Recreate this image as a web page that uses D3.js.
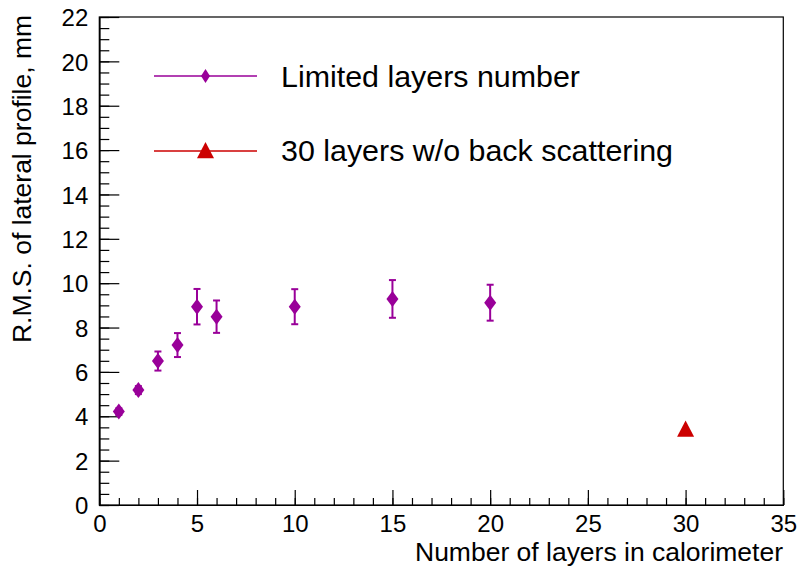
<!DOCTYPE html>
<html lang="en">
<meta charset="utf-8">
<style>
body { margin: 0; background: #fff; }
text { font-family: "Liberation Sans", Arial, sans-serif; fill: #000; }
.axis path, .axis line { stroke: #000; stroke-width: 1.2px; }
.axis text { font-size: 24px; }
</style>
<body>
<script src="https://d3js.org/d3.v7.min.js"></script>
<script>

// data
var layers   = [1, 2, 3, 4, 5, 6, 10, 15, 20];
var rms      = [4.21, 5.18, 6.49, 7.21, 8.94, 8.49, 8.94, 9.29, 9.12];
var rmsErr   = [0.15, 0.18, 0.43, 0.54, 0.8, 0.73, 0.79, 0.85, 0.81];
var noBackLayers = [30];
var noBackRms    = [3.41];

var xMajor = [0, 5, 10, 15, 20, 25, 30, 35];
var yMajor = [0, 2, 4, 6, 8, 10, 12, 14, 16, 18, 20, 22];

var purple = "#990099", red = "#cc0000";

var W = 799, H = 566;
var svg = d3.select("body").append("svg")
    .attr("width", W).attr("height", H);

var x = d3.scaleLinear().domain([0, 35]).range([99.3, 783.3]);
var y = d3.scaleLinear().domain([0, 22]).range([505, 17]);

// frame
svg.append("rect")
    .attr("x", x(0)).attr("y", y(22))
    .attr("width", x(35) - x(0)).attr("height", y(0) - y(22))
    .attr("fill", "none").attr("stroke", "#000").attr("stroke-width", 1.2);

// x axis, ticks pointing inward
svg.append("g").attr("class", "axis")
    .attr("transform", "translate(0," + y(0) + ")")
    .call(d3.axisBottom(x).tickValues(d3.range(0, 36, 1)).tickSize(-7).tickSizeOuter(0).tickFormat(""));
var gx = svg.append("g").attr("class", "axis")
    .attr("transform", "translate(0," + y(0) + ")")
    .call(d3.axisBottom(x).tickValues(xMajor).tickSize(-15).tickSizeOuter(0));
gx.selectAll("text").attr("y", 27).attr("dy", 0);

// y axis
svg.append("g").attr("class", "axis")
    .attr("transform", "translate(" + x(0) + ",0)")
    .call(d3.axisLeft(y).tickValues(d3.range(0, 22.01, 0.5)).tickSize(-10).tickSizeOuter(0).tickFormat(""));
var gy = svg.append("g").attr("class", "axis")
    .attr("transform", "translate(" + x(0) + ",0)")
    .call(d3.axisLeft(y).tickValues(yMajor).tickSize(-20).tickSizeOuter(0));
gy.selectAll("text").attr("x", -11).attr("dy", "0.36em");

// axis titles
svg.append("text")
    .attr("x", 783).attr("y", 561)
    .attr("text-anchor", "end")
    .attr("textLength", 368).attr("lengthAdjust", "spacingAndGlyphs")
    .style("font-size", "25px")
    .text("Number of layers in calorimeter");

svg.append("text")
    .attr("transform", "translate(31,15) rotate(-90)")
    .attr("text-anchor", "end")
    .attr("textLength", 328).attr("lengthAdjust", "spacingAndGlyphs")
    .style("font-size", "25px")
    .text("R.M.S. of lateral profile, mm");

// marker shapes
function diamond(cx, cy, hw, hh) {
  return "M" + cx + "," + (cy - hh) + "L" + (cx + hw) + "," + cy +
         "L" + cx + "," + (cy + hh) + "L" + (cx - hw) + "," + cy + "Z";
}
function triangle(cx, cy, s) {
  var h = s * 0.95;
  return "M" + cx + "," + (cy - h * 0.55) + "L" + (cx + s / 2) + "," + (cy + h * 0.45) +
         "L" + (cx - s / 2) + "," + (cy + h * 0.45) + "Z";
}

// error bars
var pts = layers.map(function(d, i) { return {x: d, y: rms[i], e: rmsErr[i]}; });
var eb = svg.append("g").attr("stroke", purple).attr("stroke-width", 2);
pts.forEach(function(p) {
  var cx = x(p.x);
  eb.append("line").attr("x1", cx).attr("x2", cx)
    .attr("y1", y(p.y - p.e)).attr("y2", y(p.y + p.e));
  [p.y - p.e, p.y + p.e].forEach(function(v) {
    eb.append("line").attr("x1", cx - 3.5).attr("x2", cx + 3.5)
      .attr("y1", y(v)).attr("y2", y(v));
  });
});

svg.append("g").selectAll("path")
    .data(pts).enter().append("path")
    .attr("d", function(p) { return diamond(x(p.x), y(p.y), 6, 8); })
    .attr("fill", purple);

svg.append("g").selectAll("path")
    .data(noBackLayers).enter().append("path")
    .attr("d", function(d, i) { return triangle(x(d), y(noBackRms[i]), 17); })
    .attr("fill", red);

// legend
var leg = [
  {label: "Limited layers number", color: purple, ly: 76, ty: 87, len: 299, shape: "d"},
  {label: "30 layers w/o back scattering", color: red, ly: 151, ty: 161, len: 392, shape: "t"}
];
leg.forEach(function(l) {
  svg.append("line")
    .attr("x1", 154).attr("x2", 257).attr("y1", l.ly).attr("y2", l.ly)
    .attr("stroke", l.color).attr("stroke-width", 1.5);
  svg.append("path")
    .attr("d", l.shape === "d" ? diamond(205.5, l.ly, 4.5, 7) : triangle(205.5, l.ly, 17))
    .attr("fill", l.color);
  svg.append("text")
    .attr("x", 281).attr("y", l.ty)
    .attr("textLength", l.len).attr("lengthAdjust", "spacingAndGlyphs")
    .style("font-size", "29px")
    .text(l.label);
});

</script>
</body>
</html>
